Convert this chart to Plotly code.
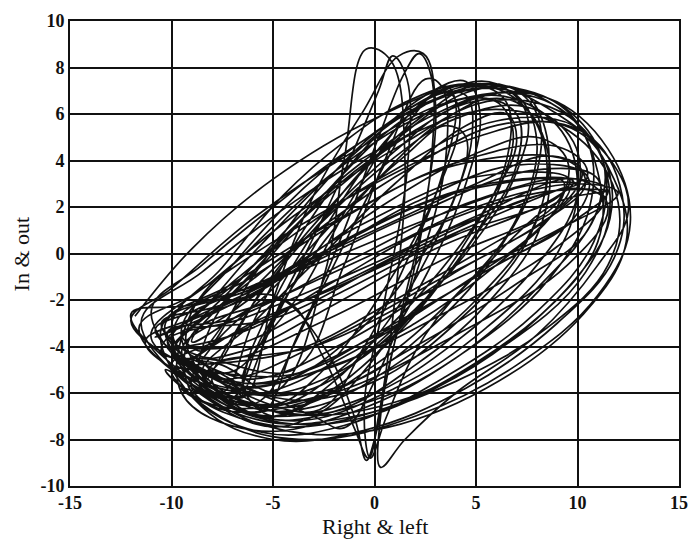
import plotly.graph_objects as go

# Tick values and labels (hyphen-minus as in the reference)
x_ticks = [-15, -10, -5, 0, 5, 10, 15]
x_labels = ["-15", "-10", "-5", "0", "5", "10", "15"]
y_ticks = [-10, -8, -6, -4, -2, 0, 2, 4, 6, 8, 10]
y_labels = ["-10", "-8", "-6", "-4", "-2", "0", "2", "4", "6", "8", "10"]

# Trajectory, loop by loop (Right & left, In & out)
loop01 = [(-11.8,-2.7),(-9,0.2),(-5,3.2),(0,5.8),(5,7.3),(9,6.3),(11.8,3.2),(12.4,0.5),(10.3,-2.6),(5.5,-5.8),(0,-7.6),(-4.5,-7.6),(-8,-6.3),(-10.5,-4.3)]
loop02 = [(-11,-3.4),(-8,-1.2),(-4,1.6),(1,4.5),(6,6.6),(10,5.6),(11.6,2.5),(10.4,-0.8),(6,-4.2),(1,-6.4),(-4,-6.9),(-8.2,-5.6)]
loop03 = [(-10,-3.6),(-6,-1.8),(-1,0.8),(5,2.9),(9.8,3.1),(8.5,2.2),(3,0.2),(-2,-2.2),(-6.5,-4.2),(-9,-4.4)]
loop04 = [(-9.5,-3.2),(-7,-0.5),(-3.5,2.8),(0,5.2),(3,6.8),(5.5,7.2),(7.5,6.2),(8.5,3.8),(7.5,0.5),(4,-3),(0,-5.5),(-4,-6.3),(-7.5,-5.2)]
loop05 = [(-10.5,-3),(-7.5,-2.2),(-2,0.3),(4,2.6),(10,3.2),(11.5,2.7),(10,1.5),(5,-1),(-0.5,-3.8),(-6,-5.6),(-9.5,-4.6)]
loop06 = [(-5,-6),(-2.5,-1),(-1.5,4),(-0.4,8.8),(0.8,8.3),(1.5,4),(1,-2),(0.2,-7),(-0.3,-8.8),(-1,-7.5),(-2.5,-4.5),(-4.5,-2)]
loop07 = [(-9,-3.8),(-6,-0.8),(-2,2.8),(2,5.3),(6,6.9),(9.5,6),(11,3.5),(11,0.5),(8,-2.8),(3,-5.8),(-2,-7.3),(-6,-7),(-8.5,-5.8)]
loop08 = [(-12,-2.6),(-9,-2.2),(-3,-0.5),(3,1.6),(8,3),(10,3),(7,2.2),(1,-0.2),(-5,-2.8),(-9.5,-3.4)]
loop09 = [(-8.5,-4.2),(-6,-1),(-3,2.5),(0.5,5.5),(4,7.2),(6,7.3),(7.5,6),(7,3.5),(4.5,0),(1,-3.2),(-3,-5.8),(-6.5,-6)]
loop10 = [(-10,-4.8),(-7,-3.5),(-1,-1),(5,1.6),(10,3.2),(11.5,2),(9.5,-0.5),(4,-3.5),(-2,-6),(-7,-6.8),(-9.5,-5.8)]
loop11 = [(-7.5,-6),(-6,-3),(-3.5,1),(-0.5,4.5),(2.5,6.8),(4.5,7.4),(5.2,6),(4.5,3),(2.5,-1),(0,-4.5),(-3,-7),(-6,-7.3)]
loop12 = [(-11.5,-3),(-8.5,-0.8),(-4,2.2),(1,4.8),(6,6.2),(10,5),(12,2.2),(11.5,-0.5),(8.5,-3.2),(4,-5.5),(-1,-7),(-5.5,-7.2),(-9,-5.6)]
loop13 = [(-9.8,-3),(-6,-1),(-1,1.8),(4,3.9),(9,4.6),(10.5,3.5),(9,1.8),(4,-0.8),(-1,-3.6),(-6,-5.4),(-9,-4.6)]
loop14 = [(-6.5,-6.2),(-5,-2),(-3,2.5),(-0.5,6.2),(1.2,8.5),(2.4,8.6),(3,6.5),(2.5,2),(1.2,-3),(0.3,-7),(0.3,-9.2),(1.5,-8),(4,-6),(8,-3.5),(11,-0.5),(12.5,1.8),(11.8,3.8),(9,6),(6,7.1),(2,6.2),(-2,3.5),(-6,0),(-9,-2.8)]
loop15 = [(-10.8,-3.6),(-8,-2.6),(-3,-0.3),(2,2.2),(7,3.8),(10.5,3.3),(9.8,1.5),(6,-0.5),(1,-3),(-4,-5.2),(-8.5,-5)]
loop16 = [(-8,-5),(-5.5,-1.5),(-2,2.2),(1.5,5.2),(4.8,7),(7.2,7),(8.5,5),(8,1.5),(5,-2),(1,-4.8),(-3,-6.6),(-6.5,-6.5)]
loop17 = [(-9.5,-4.2),(-7,-2.5),(-3,0),(1,2.4),(5,4.3),(8,5),(9.5,4),(9,2),(6,-0.5),(2,-3),(-2.5,-5),(-7,-5.5)]
loop18 = [(-12,-2.9),(-10,-1.5),(-6,1.5),(-1,4.4),(4,6.6),(8.5,6.7),(11.5,4.5),(12.6,1.3),(11,-1.8),(7,-4.8),(2,-7),(-3,-8),(-7,-7.3),(-10,-5)]
loop19 = [(-6.8,-5),(-4,-1),(-1.5,3.5),(0.2,7),(0.9,8.5),(1.6,7.5),(1.6,3.5),(0.5,-2),(-0.5,-6.5),(-0.2,-8.8),(0.6,-7),(2.5,-3.5),(5.5,-0.5),(9,2.2),(11.5,2.7),(8,2.6),(3,1.2),(-2,-1.2),(-6,-3.2),(-9.3,-4)]
loop20 = [(-9.8,-4),(-7,-1.5),(-3.8,1.5),(-0.5,4),(3,6),(6,6.8),(9,5.5),(10,3),(9,0),(5.5,-3.2),(1,-5.8),(-4,-7.2),(-8,-6)]
loop21 = [(-10.3,-3),(-6,-1.5),(-0.5,1.3),(5,3.3),(9.6,3.2),(9,2.4),(4,0.8),(-1.5,-1.6),(-7,-4),(-10,-4.2)]
loop22 = [(-7,-6.2),(-6,-4),(-4,-0.5),(-1,3.2),(2.5,6),(5,7.2),(6.5,6.5),(6.5,4),(4.5,0.5),(1.5,-3),(-2,-5.8),(-5,-7),(-7,-6.6)]
loop23 = [(-11,-2.5),(-8.5,-0.5),(-5,2),(-1,4.6),(3.5,6.8),(7,7.1),(10,5.8),(11.4,3.4),(10.8,0.5),(8,-2.5),(3.5,-5.3),(-1.5,-7.4),(-5.5,-7.7),(-9,-6)]
loop24 = [(-9,-3.5),(-5,-2),(0,0),(5,2),(10,3),(12,2.6),(9,1),(3,-1.5),(-3,-4),(-8,-4.8)]
loop25 = [(-8.3,-5.5),(-6,-2.2),(-2.5,1.5),(1,4.4),(4,6.3),(7,6.5),(8.5,4.5),(8.2,1.2),(5.5,-2.2),(2,-4.8),(-2,-6.8),(-6,-6.9)]
loop26 = [(-10,-3.2),(-7.5,-0.6),(-4.5,2.5),(-1.5,4.8),(1.5,6.5),(4.5,7.3),(7,6.8),(8,4.8),(7,1.5),(4,-1.8),(0,-4.8),(-4,-6.6),(-8,-5.8)]
loop27 = [(-11.3,-3.8),(-9,-2.8),(-4,-0.8),(2,1.7),(8,3.6),(11,3.2),(10.5,1),(7,-1.3),(2,-4),(-3,-6.2),(-8,-6.5),(-10.3,-5)]
loop28 = [(-6,-6.5),(-3.5,-3),(-1.5,1),(0.2,5),(1.5,7.8),(2.2,8.6),(2.8,7.6),(2.8,4),(2,-0.5),(0.8,-4.5),(0,-8),(-0.4,-8.9),(-1,-7),(-2.5,-4),(-5,-1.8),(-8,-2.5)]
loop29 = [(-9.8,-3.8),(-7,-1.8),(-2.5,1.2),(2,3.8),(6.5,5.6),(10.5,5.1),(12.2,2.5),(11.8,-0.2),(9,-3),(4.5,-5.8),(-0.5,-7.6),(-5,-8),(-8.5,-6.6)]
loop30 = [(-10.5,-3.2),(-7,-1.3),(-1.5,1.6),(4,3.8),(9.5,4),(10.4,3),(8,1.2),(3,-1.2),(-2.5,-3.8),(-7.5,-5.4),(-10,-4.3)]
loop31 = [(-9,-4.5),(-6.5,-2),(-3,1),(0.5,3.8),(4,5.8),(7.5,6.3),(9.8,4.8),(10,2.5),(8,-0.5),(4,-3.8),(-0.5,-6.2),(-5,-7),(-8,-6.2)]
loop32 = [(-11.6,-3.2),(-9,-1.8),(-5,0.5),(0,3),(5,5),(9,5.6),(11.2,4.2),(11.6,1.5),(9.5,-1.5),(5,-4.7),(0,-6.8),(-5,-7.4),(-9,-5.8)]
loop33 = [(-8,-4),(-5,-1.5),(-1.5,1.8),(1.5,4.2),(3.5,5.5),(4.5,5),(4,2.5),(2,-0.5),(-1,-3.5),(-4.5,-5.5),(-7.5,-5.5)]
loop34 = [(-10.2,-3.4),(-7,-2.8),(-1,-0.2),(5,2.3),(9.3,3.1),(8.8,2),(3.5,-0.2),(-2.5,-2.9),(-7.5,-4.6),(-10,-4)]
loop35 = [(-7.2,-6.3),(-5.5,-3.5),(-2.5,0.5),(0.5,3.5),(3.5,5.8),(5.8,6.6),(6.8,5.4),(6,2.5),(3.5,-1),(0.5,-4),(-3,-6.3),(-6,-7)]
loop36 = [(-9.3,-3.6),(-6.5,-1),(-2.5,2.3),(1.5,5),(5.5,6.8),(8.5,6.7),(10.5,4.8),(10.6,2),(8.5,-1.2),(4.5,-4.2),(0,-6.3),(-4.5,-6.9),(-8,-5.4)]
loop37 = [(-7,-6.5),(-5,-3),(-2.5,1),(0.5,4.8),(3,6.8),(4.5,6.8),(4.8,5),(3.5,1.5),(1,-2.5),(-2,-5.5),(-5,-7)]
loop38 = [(-6.5,-5.5),(-3.5,-1.5),(-1,2.5),(1.5,5.8),(3.5,7),(4.2,6),(3,2.5),(0.5,-1.5),(-2.5,-5),(-5,-6.5)]
loop39 = [(-8.5,-5.2),(-6,-3),(-2.5,0),(1,3),(4.5,5.5),(6.5,6),(7,4.8),(5.5,2),(2.5,-1.5),(-1,-4.5),(-4.5,-6.5),(-7.5,-6.3)]
loop40 = [(-5.5,-6.8),(-4,-4),(-2,-0.5),(0,3),(2,6),(3.5,7.2),(4,6.5),(3.2,3),(1.5,-0.5),(-0.5,-4),(-3,-6.8)]
loop41 = [(-10.8,-3.3),(-9,-2.5),(-5,-1),(0,1),(5,3),(8.5,4.2),(10.2,3.6),(9.5,2.3),(6,0.5),(1,-2),(-4,-4.2),(-9,-4.8)]
loop42 = [(-9.2,-4.8),(-6.5,-3.2),(-2,-1.5),(3,0.5),(7.5,2.2),(9.6,2.8),(8,1),(4,-1.5),(-1,-4.2),(-5.5,-6),(-8.5,-5.8)]
loop43 = [(-8,-3),(-5,0),(-2,3),(1,5.5),(4,7),(6.5,7.2),(8,6),(8,3.5),(6,0),(3,-3),(-1,-5.5),(-5,-6),(-7.5,-4.8)]
loop44 = [(-10.5,-4.2),(-8,-2),(-4,0.8),(1,3.6),(6,5.7),(9.8,5.5),(11.3,3.8),(10.8,1.5),(8,-1.5),(4,-4.5),(-1,-6.8),(-6,-7.6),(-9.5,-6)]
loop45 = [(-9,-2.5),(-6,0.3),(-2,3.5),(2,5.8),(5,6.7),(7,6),(7,3.8),(5,0.8),(2,-2.5),(-2,-5.2),(-6,-6),(-8.5,-4.5)]
loop46 = [(-4,-5),(-1.5,-0.5),(0.5,4),(2.5,7.5),(3.3,7.2),(3.5,4),(2,-1),(0,-5.5),(-1.5,-7.5),(-3,-7)]
loop47 = [(-10.2,-3.8),(-6.5,-2.8),(-1,-0.8),(5,1.5),(10,2.8),(11.3,2.3),(9,0.3),(4,-2.3),(-2,-4.8),(-7,-5.8),(-9.8,-4.8)]

loops = [loop01, loop02, loop03, loop04, loop05, loop06, loop07, loop08, loop09, loop10,
         loop11, loop12, loop13, loop14, loop15, loop16, loop17, loop18, loop19, loop20,
         loop21, loop22, loop23, loop24, loop25, loop26, loop27, loop28, loop29, loop30,
         loop31, loop32, loop33, loop34, loop35, loop36, loop37, loop38, loop39, loop40,
         loop41, loop42, loop43, loop44, loop45, loop46, loop47]

right_left = [p[0] for lp in loops for p in lp]
in_out = [p[1] for lp in loops for p in lp]

fig = go.Figure()
fig.add_trace(go.Scatter(
    x=right_left, y=in_out, mode="lines",
    line=dict(color="#111111", width=1.7, shape="spline", smoothing=1.1),
    showlegend=False, hoverinfo="skip"))

serif = "Liberation Serif, Times New Roman, serif"
axis_common = dict(
    showgrid=True, gridcolor="#111111", gridwidth=1.5,
    zeroline=False, showline=True, linecolor="#111111", linewidth=1.6,
    mirror=True, ticks="",
    tickfont=dict(family=serif, size=18, color="#111111", weight="bold"),
)

fig.update_layout(
    width=699, height=544,
    margin=dict(l=70, r=11, t=14, b=58),
    paper_bgcolor="white", plot_bgcolor="white",
    xaxis=dict(range=[-15, 15], tickvals=x_ticks, ticktext=x_labels, **axis_common),
    yaxis=dict(range=[-10, 10], tickvals=y_ticks, ticktext=y_labels, **axis_common),
    annotations=[
        dict(text="Right & left", xref="paper", yref="paper", x=0.5, y=-0.087,
             xanchor="center", yanchor="middle", showarrow=False,
             font=dict(family=serif, size=22, color="#111111")),
        dict(text="In & out", xref="paper", yref="paper", x=-0.079, y=0.5,
             xanchor="center", yanchor="middle", textangle=-90, showarrow=False,
             font=dict(family=serif, size=22, color="#111111")),
    ],
)

fig.write_html("out.html")
